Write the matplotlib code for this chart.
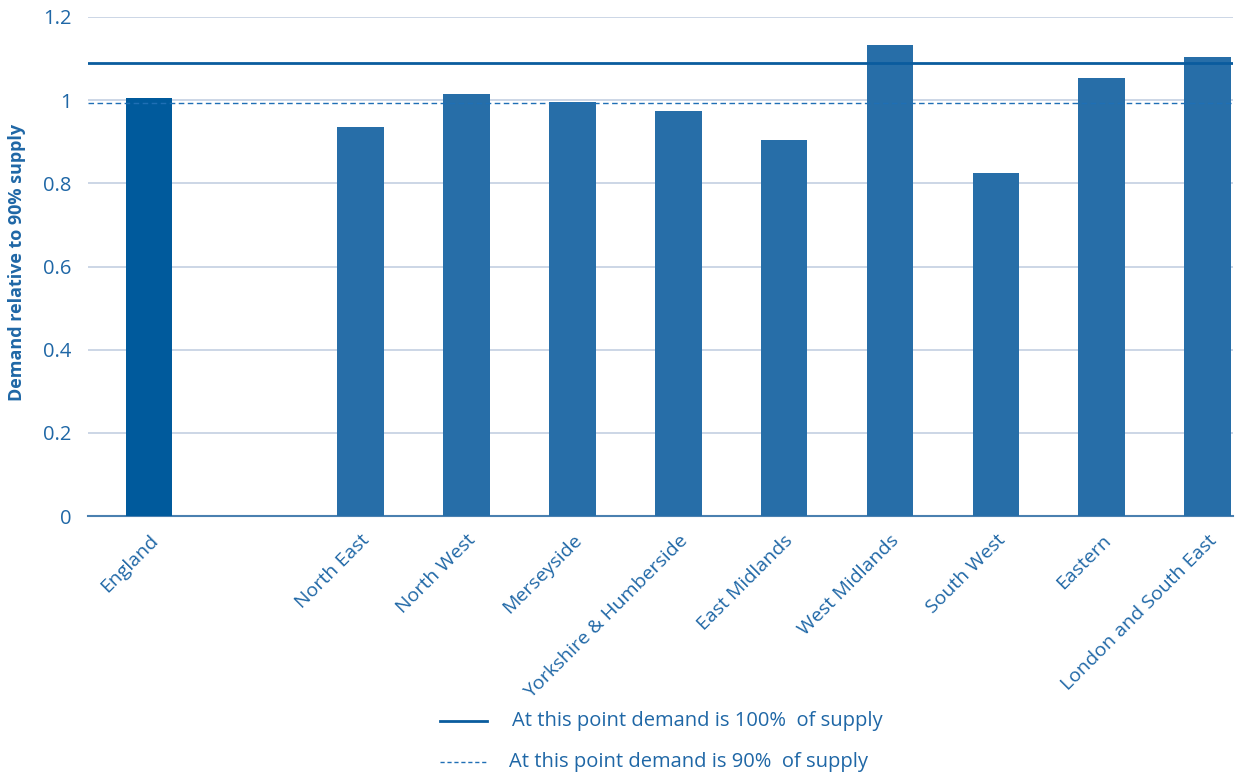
import matplotlib
matplotlib.use("Agg")
import matplotlib.pyplot as plt
from matplotlib.lines import Line2D

categories = ["England", "", "North East", "North West", "Merseyside",
              "Yorkshire & Humberside", "East Midlands", "West Midlands",
              "South West", "Eastern", "London and South East"]
values = [1.005, None, 0.936, 1.015, 0.996, 0.974, 0.904, 1.133, 0.825, 1.053, 1.104]
line_100 = 1.09
line_90 = 0.993
yticks = [0, 0.2, 0.4, 0.6, 0.8, 1, 1.2]
ytick_labels = ["0", "0.2", "0.4", "0.6", "0.8", "1", "1.2"]

text_col = "#1f67a6"
bar_col = "#276ea8"
eng_col = "#005a9c"
grid_col = "#c3cfe2"

plt.rcParams['font.family'] = ['Open Sans', 'DejaVu Sans']

fig = plt.figure(figsize=(12.6, 7.78), dpi=100)
ax = fig.add_axes([88/1260, 1-516/778, (1233-88)/1260, (516-17)/778])

xs = list(range(len(categories)))
for x, v in zip(xs, values):
    if v is None:
        continue
    ax.bar(x, v, width=0.44, color=eng_col if x == 0 else bar_col, zorder=3)

ax.set_xlim(-0.575, 10.24)
ax.set_ylim(0, 1.2)
ax.set_yticks(yticks)
ax.set_yticklabels(ytick_labels)
for y in yticks[1:]:
    ax.axhline(y, color=grid_col, lw=1.2, zorder=1)
ax.axhline(line_100, color="#0a5c9e", lw=2.0, zorder=4)
ax.axhline(line_90, color="#1f6fb5", lw=1.0, ls=(0, (4, 2.5)), zorder=4)

for s in ["top", "right", "left"]:
    ax.spines[s].set_visible(False)
ax.spines["bottom"].set_color("#4a80b0")
ax.spines["bottom"].set_linewidth(1.5)
ax.tick_params(axis="both", length=0, colors=text_col, labelsize=14.5)
ax.tick_params(axis="y", pad=12)
ax.set_xticks([x for x in xs if categories[x]])
ax.set_xticklabels([c for c in categories if c], rotation=45, ha="right",
                   rotation_mode="anchor", color=text_col, fontsize=14)
ax.tick_params(axis="x", pad=11)

fig.text(17/1260, 1-262/778, "Demand relative to 90% supply", color=text_col,
         fontsize=13, fontweight="bold", rotation=90, ha="center", va="center")

# legend
fig.add_artist(Line2D([440/1260, 487/1260], [1-721/778, 1-721/778],
                      color="#0a5c9e", lw=2.0, transform=fig.transFigure))
fig.add_artist(Line2D([440/1260, 487/1260], [1-762/778, 1-762/778],
                      color="#1f6fb5", lw=1.0, ls=(0, (3, 2)), transform=fig.transFigure))
fig.text(512/1260, 1-721/778, "At this point demand is 100%  of supply",
         color=text_col, fontsize=14.5, va="center", ha="left")
fig.text(509/1260, 1-762/778, "At this point demand is 90%  of supply",
         color=text_col, fontsize=14.5, va="center", ha="left")

fig.savefig("out.png", dpi=100)
